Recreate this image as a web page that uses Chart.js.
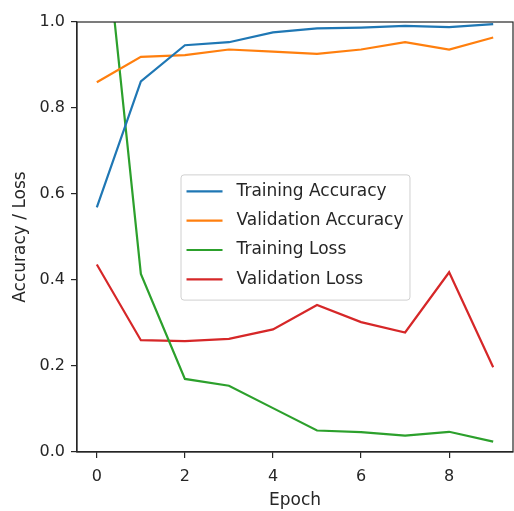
<!DOCTYPE html>
<html>
<head>
<meta charset="utf-8">
<script src="https://cdn.jsdelivr.net/npm/chart.js@4"></script>
<style>
  html, body { margin: 0; padding: 0; background: #fff; }
  #wrap { width: 514px; height: 511px; }
</style>
</head>
<body>
<div id="wrap"><canvas id="historyChart" width="514" height="511"></canvas></div>
<script>
// Training history
const epochs = [0, 1, 2, 3, 4, 5, 6, 7, 8, 9];
const trainAcc = [0.569, 0.862, 0.946, 0.953, 0.976, 0.985, 0.987, 0.991, 0.988, 0.995];
const valAcc = [0.860, 0.919, 0.923, 0.936, 0.931, 0.926, 0.936, 0.953, 0.936, 0.964];
const trainLoss = [1.40, 0.414, 0.170, 0.154, 0.102, 0.050, 0.046, 0.038, 0.047, 0.024];
const valLoss = [0.436, 0.260, 0.258, 0.263, 0.285, 0.342, 0.302, 0.278, 0.418, 0.197];
const xTicks = [0, 2, 4, 6, 8];
const yTicks = [0, 0.2, 0.4, 0.6, 0.8, 1.0];

const FONT = "'DejaVu Sans', sans-serif";
const INK = "#262626";

function pts(ys) {
    return epochs.map((e, i) => ({ x: e, y: ys[i] }));
}

// matplotlib-ish frame: top and right spines
const frame = {
    id: "frame",
    afterDatasetsDraw(chart) {
        const a = chart.chartArea;
        const c = chart.ctx;
        c.save();
        c.strokeStyle = INK;
        c.lineWidth = 1.2;
        c.strokeRect(a.left, a.top, a.right - a.left, a.bottom - a.top);
        c.restore();
    }
};

// legend box in the middle of the axes
const boxLegend = {
    id: "boxLegend",
    afterDraw(chart) {
        const a = chart.chartArea;
        const c = chart.ctx;
        const sets = chart.data.datasets;
        c.save();
        c.font = "17px " + FONT;
        let tw = 0;
        sets.forEach(d => { tw = Math.max(tw, c.measureText(d.label).width); });
        const rowH = 29.3;
        const w = 6 + 36 + 14 + tw + 6;
        const h = rowH * sets.length + 8;
        const x0 = (a.left + a.right) / 2 - w / 2;
        const y0 = (a.top + a.bottom) / 2 - h / 2;
        c.fillStyle = "rgba(255,255,255,0.85)";
        c.strokeStyle = "#d0d0d0";
        c.lineWidth = 1;
        c.beginPath();
        c.roundRect(x0 + 0.5, y0 + 0.5, w, h, 3);
        c.fill();
        c.stroke();
        c.textBaseline = "middle";
        sets.forEach((d, i) => {
            const y = y0 + 17 + i * rowH;
            c.strokeStyle = d.borderColor;
            c.lineWidth = 2.2;
            c.beginPath();
            c.moveTo(x0 + 6, y);
            c.lineTo(x0 + 42, y);
            c.stroke();
            c.fillStyle = INK;
            c.fillText(d.label, x0 + 56, y);
        });
        c.restore();
    }
};

const ctx = document.getElementById("historyChart").getContext("2d");
const historyChart = new Chart(ctx, {
    type: "line",
    data: {
        datasets: [
            { label: "Training Accuracy", data: pts(trainAcc), borderColor: "#1f77b4" },
            { label: "Validation Accuracy", data: pts(valAcc), borderColor: "#ff7f0e" },
            { label: "Training Loss", data: pts(trainLoss), borderColor: "#2ca02c" },
            { label: "Validation Loss", data: pts(valLoss), borderColor: "#d62728" }
        ]
    },
    options: {
        responsive: false,
        animation: false,
        layout: { padding: { top: 22, right: 1, left: 0, bottom: 0 } },
        elements: {
            line: { borderWidth: 2.2, tension: 0, fill: false },
            point: { radius: 0, hoverRadius: 0 }
        },
        plugins: {
            legend: { display: false },
            tooltip: { enabled: false }
        },
        scales: {
            x: {
                type: "linear",
                min: -0.45,
                max: 9.45,
                afterBuildTicks: s => { s.ticks = xTicks.map(v => ({ value: v })); },
                afterFit: s => { s.height = 59; },
                ticks: { color: INK, font: { family: FONT, size: 16 }, padding: 9, maxRotation: 0 },
                grid: { drawOnChartArea: false, drawTicks: true, tickLength: 6, color: INK, lineWidth: 1.2 },
                border: { display: true, color: INK, width: 1.2 },
                title: { display: true, text: "Epoch", color: INK, font: { family: FONT, size: 17 }, padding: { top: 6, bottom: 0 } }
            },
            y: {
                min: 0,
                max: 1,
                afterBuildTicks: s => { s.ticks = yTicks.map(v => ({ value: v })); },
                afterFit: s => { s.width = 77; },
                ticks: { color: INK, font: { family: FONT, size: 16 }, padding: 6, callback: v => v.toFixed(1) },
                grid: { drawOnChartArea: false, drawTicks: true, tickLength: 6, color: INK, lineWidth: 1.2 },
                border: { display: true, color: INK, width: 1.2 },
                title: { display: true, text: "Accuracy / Loss", color: INK, font: { family: FONT, size: 17 }, padding: { top: 10, bottom: 4 } }
            }
        }
    },
    plugins: [frame, boxLegend]
});
</script>
</body>
</html>
